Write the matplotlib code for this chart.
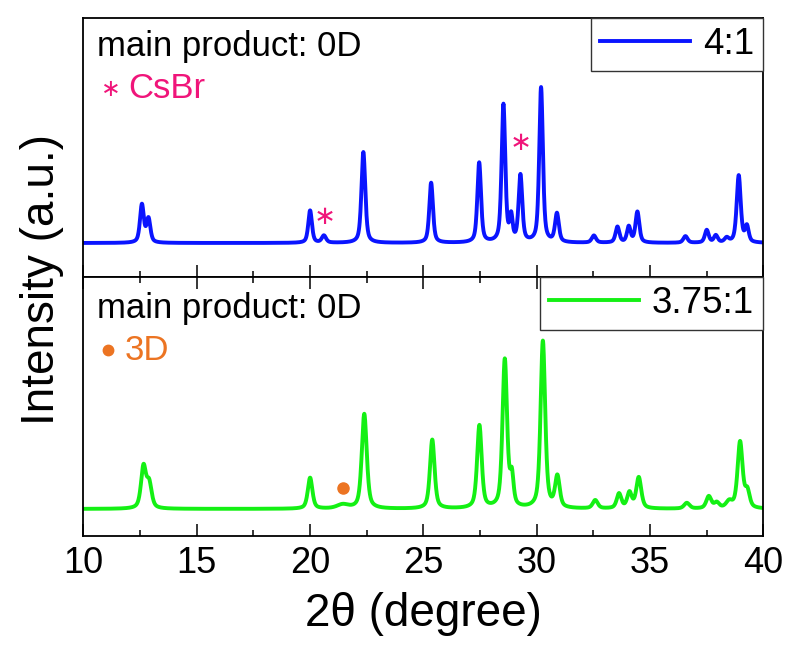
import numpy as np
import matplotlib.pyplot as plt
from matplotlib.ticker import MultipleLocator

plt.rcParams['font.family'] = ['Liberation Sans', 'DejaVu Sans']

pos_41 = [12.59, 12.88, 20.01, 20.62, 22.36, 25.35, 27.47, 28.54, 28.88, 29.29,
          30.20, 30.90, 32.53, 33.57, 34.07, 34.45, 36.57, 37.51, 37.91, 38.39,
          38.92, 39.28]
amp_41 = [24, 15, 20.5, 4.5, 57.5, 38, 50.5, 87, 15, 42,
          98, 18, 4.5, 10, 10, 19.5, 4.2, 8, 4.5, 2.8,
          42.5, 10]
width_41 = [0.2, 0.2, 0.19, 0.22, 0.2, 0.19, 0.19, 0.19, 0.15, 0.19,
            0.19, 0.2, 0.22, 0.2, 0.19, 0.2, 0.22, 0.2, 0.2, 0.22,
            0.21, 0.19]

pos_375 = [12.66, 12.91, 20.01, 21.45, 22.40, 25.40, 27.48, 28.60, 28.91, 30.28,
           30.92, 32.59, 33.64, 34.10, 34.51, 36.63, 37.60, 37.95, 38.50, 38.98,
           39.30]
amp_375 = [24, 14, 18, 2.3, 55, 40, 48, 86, 17, 97,
           18, 4.8, 8.5, 9, 18, 3.3, 7, 3.2, 3.8, 38.5,
           9.5]
width_375 = [0.26, 0.26, 0.24, 0.6, 0.26, 0.24, 0.24, 0.24, 0.18, 0.24,
             0.24, 0.26, 0.24, 0.24, 0.26, 0.28, 0.26, 0.26, 0.32, 0.26,
             0.24]

# impurity markers
csbr_x = [20.67, 29.32]
csbr_y = [16.5, 63.3]
threed_x = [21.45]
threed_y = [12.2]

x_ticks = [10, 15, 20, 25, 30, 35, 40]

blue = '#0a14ff'
green = '#14f014'
pink = '#f0157a'
orange = '#ec7422'


def pattern(tt, pos, amp, width, eta=0.55):
    """pseudo-Voigt sum of the read-off peaks"""
    y = np.zeros_like(tt)
    for p, a, w in zip(pos, amp, width):
        d = (tt - p) / w
        y += a * (eta / (1 + 4 * d ** 2) + (1 - eta) * np.exp(-4 * np.log(2) * d ** 2))
    return y


tt = np.linspace(10, 40, 3001)

fig = plt.figure(figsize=(8, 6.71), dpi=100)
ax1 = fig.add_axes([0.104, 0.5872, 0.85, 0.386])
ax2 = fig.add_axes([0.104, 0.2012, 0.85, 0.386])

ax1.plot(tt, pattern(tt, pos_41, amp_41, width_41), color=blue, lw=2.8, label='4:1')
ax2.plot(tt, pattern(tt, pos_375, amp_375, width_375), color=green, lw=2.8, label='3.75:1')

ax1.set_ylim(-21.5, 142.4)
ax2.set_ylim(-15.7, 134.6)

for ax in (ax1, ax2):
    ax.set_xlim(10, 40)
    ax.set_xticks(x_ticks)
    ax.xaxis.set_minor_locator(MultipleLocator(2.5))
    ax.set_yticks([])
    for s in ax.spines.values():
        s.set_linewidth(1.3)
    ax.tick_params(axis='x', which='both', direction='in', width=1.1)
    ax.tick_params(axis='x', which='major', length=8.5)
    ax.tick_params(axis='x', which='minor', length=4.5)
    leg = ax.legend(loc='upper right', borderaxespad=0, fontsize=26.5, frameon=True,
                    fancybox=False, handlelength=2.45, handletextpad=0.35,
                    borderpad=0.25, framealpha=1)
    leg.get_frame().set_edgecolor('#333333')
    leg.get_frame().set_linewidth(1.0)

ax1.tick_params(axis='x', labelbottom=False)
ax2.tick_params(axis='x', which='both', top=True, labelsize=26, pad=7)

# annotations
ax1.text(0.021, 0.89, 'main product: 0D', transform=ax1.transAxes, fontsize=25, va='center')
ax1.text(0.04, 0.726, '∗', transform=ax1.transAxes, fontsize=17, color=pink,
         va='center', ha='center', family='DejaVu Sans')
ax1.text(0.066, 0.726, 'CsBr', transform=ax1.transAxes, fontsize=25, color=pink, va='center')
for cx, cy in zip(csbr_x, csbr_y):
    ax1.text(cx, cy, '∗', fontsize=19, color=pink, ha='center', va='center',
             family='DejaVu Sans')

ax2.text(0.021, 0.88, 'main product: 0D', transform=ax2.transAxes, fontsize=25, va='center')
ax2.plot([0.037], [0.72], 'o', transform=ax2.transAxes, color=orange, ms=7.5)
ax2.text(0.061, 0.718, '3D', transform=ax2.transAxes, fontsize=25, color=orange, va='center')
ax2.plot(threed_x, threed_y, 'o', color=orange, ms=8)

ax2.set_xlabel('2θ (degree)', fontsize=33, labelpad=8)
fig.text(0.052, 0.583, 'Intensity (a.u.)', rotation=90, fontsize=33,
         ha='center', va='center')

fig.savefig('out.png', dpi=100)
